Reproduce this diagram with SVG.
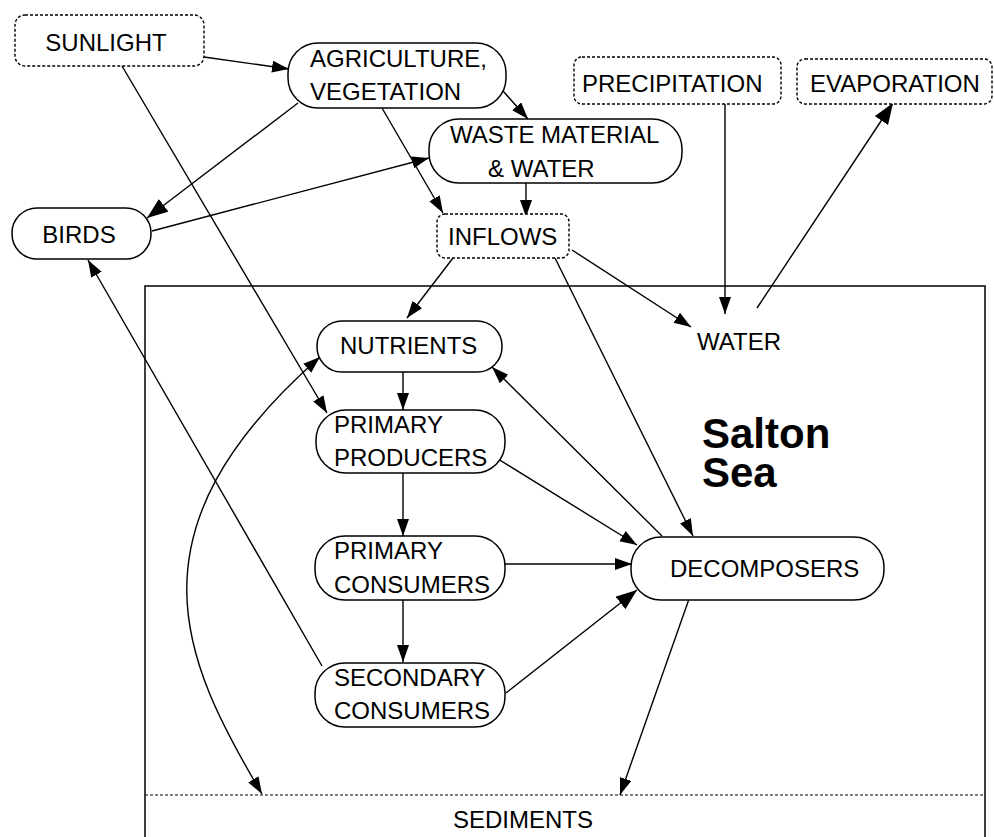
<svg xmlns="http://www.w3.org/2000/svg" width="994" height="837" viewBox="0 0 994 837">
<style>
text{font-family:"Liberation Sans",Arial,sans-serif;font-size:24px;fill:#000}
.box{fill:#fff;stroke:#000;stroke-width:1.5}
.dot{fill:#fff;stroke:#000;stroke-width:1.4;stroke-dasharray:3 2}
.c{fill:none;stroke:#000;stroke-width:1.4}
.big{font-size:42px;font-weight:bold}
</style>
<defs>
<marker id="arr" markerUnits="userSpaceOnUse" markerWidth="18" markerHeight="14" refX="17" refY="6" orient="auto">
<path d="M0,0 L17,6 L0,12 z" fill="#000"/>
</marker>
<marker id="arrL" markerUnits="userSpaceOnUse" markerWidth="22" markerHeight="18" refX="21" refY="8" orient="auto">
<path d="M0,0 L21,8 L0,16 z" fill="#000"/>
</marker>
<marker id="arrS" markerUnits="userSpaceOnUse" markerWidth="18" markerHeight="14" refX="17" refY="6" orient="auto-start-reverse">
<path d="M0,0 L17,6 L0,12 z" fill="#000"/>
</marker>
</defs>
<rect x="145" y="286" width="840" height="560" fill="none" stroke="#000" stroke-width="1.5"/>
<line x1="145" y1="795" x2="985" y2="795" stroke="#000" stroke-width="1.2" stroke-dasharray="3 2"/>
<text x="523" y="828" text-anchor="middle">SEDIMENTS</text>
<text x="739" y="350" text-anchor="middle">WATER</text>
<text class="big" x="702" y="448">Salton<tspan x="702" dy="39">Sea</tspan></text>
<g id="connectors">
<line class="c" x1="204" y1="57" x2="289" y2="69" marker-end="url(#arr)"/>
<line class="c" x1="122" y1="66" x2="327" y2="413" marker-end="url(#arr)"/>
<line class="c" x1="298" y1="103" x2="147" y2="218" marker-end="url(#arrL)"/>
<line class="c" x1="152" y1="231" x2="429" y2="158" marker-end="url(#arr)"/>
<line class="c" x1="322" y1="666" x2="88" y2="260" marker-end="url(#arr)"/>
<line class="c" x1="503" y1="91" x2="528" y2="119" marker-end="url(#arr)"/>
<line class="c" x1="382" y1="108" x2="443" y2="213" marker-end="url(#arr)"/>
<line class="c" x1="526" y1="183" x2="526" y2="217" marker-end="url(#arr)"/>
<line class="c" x1="453" y1="258" x2="407" y2="318" marker-end="url(#arr)"/>
<line class="c" x1="555" y1="258" x2="693" y2="536" marker-end="url(#arr)"/>
<line class="c" x1="572" y1="250" x2="691" y2="327" marker-end="url(#arr)"/>
<line class="c" x1="725" y1="104" x2="725" y2="314" marker-end="url(#arr)"/>
<line class="c" x1="757" y1="308" x2="893" y2="103" marker-end="url(#arrL)"/>
<line class="c" x1="403" y1="372" x2="403" y2="410" marker-end="url(#arr)"/>
<line class="c" x1="403" y1="473" x2="403" y2="536" marker-end="url(#arr)"/>
<line class="c" x1="403" y1="600" x2="403" y2="662" marker-end="url(#arr)"/>
<path class="c" d="M320,357 C122,531 182,659 262,794" marker-start="url(#arrS)" marker-end="url(#arrS)"/>
<line class="c" x1="498" y1="459" x2="637" y2="545" marker-end="url(#arr)"/>
<line class="c" x1="662" y1="536" x2="492" y2="367" marker-end="url(#arr)"/>
<line class="c" x1="505" y1="564" x2="632" y2="564" marker-end="url(#arr)"/>
<line class="c" x1="506" y1="693" x2="637" y2="590" stroke-width="2" marker-end="url(#arrL)"/>
<line class="c" x1="689" y1="599" x2="620" y2="795" marker-end="url(#arr)"/>
</g>
<g id="sunlight">
<rect class="dot" x="15" y="15" width="189" height="51" rx="10"/>
<text x="106" y="51" text-anchor="middle">SUNLIGHT</text>
</g>
<g id="agriculture">
<rect class="box" x="288" y="43" width="218" height="65" rx="30"/>
<text x="310" y="67">AGRICULTURE,</text>
<text x="310" y="100">VEGETATION</text>
</g>
<g id="waste">
<rect class="box" x="429" y="119" width="253" height="64" rx="30"/>
<text x="450" y="143">WASTE MATERIAL</text>
<text x="488" y="177">&amp; WATER</text>
</g>
<g id="precipitation">
<rect class="dot" x="574" y="57" width="207" height="47" rx="8"/>
<text x="582" y="92">PRECIPITATION</text>
</g>
<g id="evaporation">
<rect class="dot" x="797" y="59" width="195" height="45" rx="8"/>
<text x="810" y="92">EVAPORATION</text>
</g>
<g id="birds">
<rect class="box" x="12" y="208" width="139" height="51" rx="25"/>
<text x="79" y="243" text-anchor="middle">BIRDS</text>
</g>
<g id="inflows">
<rect class="dot" x="437" y="214" width="132" height="44" rx="8"/>
<text x="448" y="245">INFLOWS</text>
</g>
<g id="nutrients">
<rect class="box" x="317" y="321" width="185" height="51" rx="25"/>
<text x="340" y="354">NUTRIENTS</text>
</g>
<g id="primary-producers">
<rect class="box" x="316" y="410" width="189" height="63" rx="30"/>
<text x="334" y="433">PRIMARY</text>
<text x="334" y="466">PRODUCERS</text>
</g>
<g id="primary-consumers">
<rect class="box" x="315" y="536" width="190" height="64" rx="30"/>
<text x="334" y="559">PRIMARY</text>
<text x="334" y="593">CONSUMERS</text>
</g>
<g id="secondary-consumers">
<rect class="box" x="315" y="663" width="190" height="64" rx="30"/>
<text x="334" y="686">SECONDARY</text>
<text x="334" y="719">CONSUMERS</text>
</g>
<g id="decomposers">
<rect class="box" x="631" y="537" width="253" height="63" rx="30"/>
<text x="670" y="577">DECOMPOSERS</text>
</g>
</svg>
